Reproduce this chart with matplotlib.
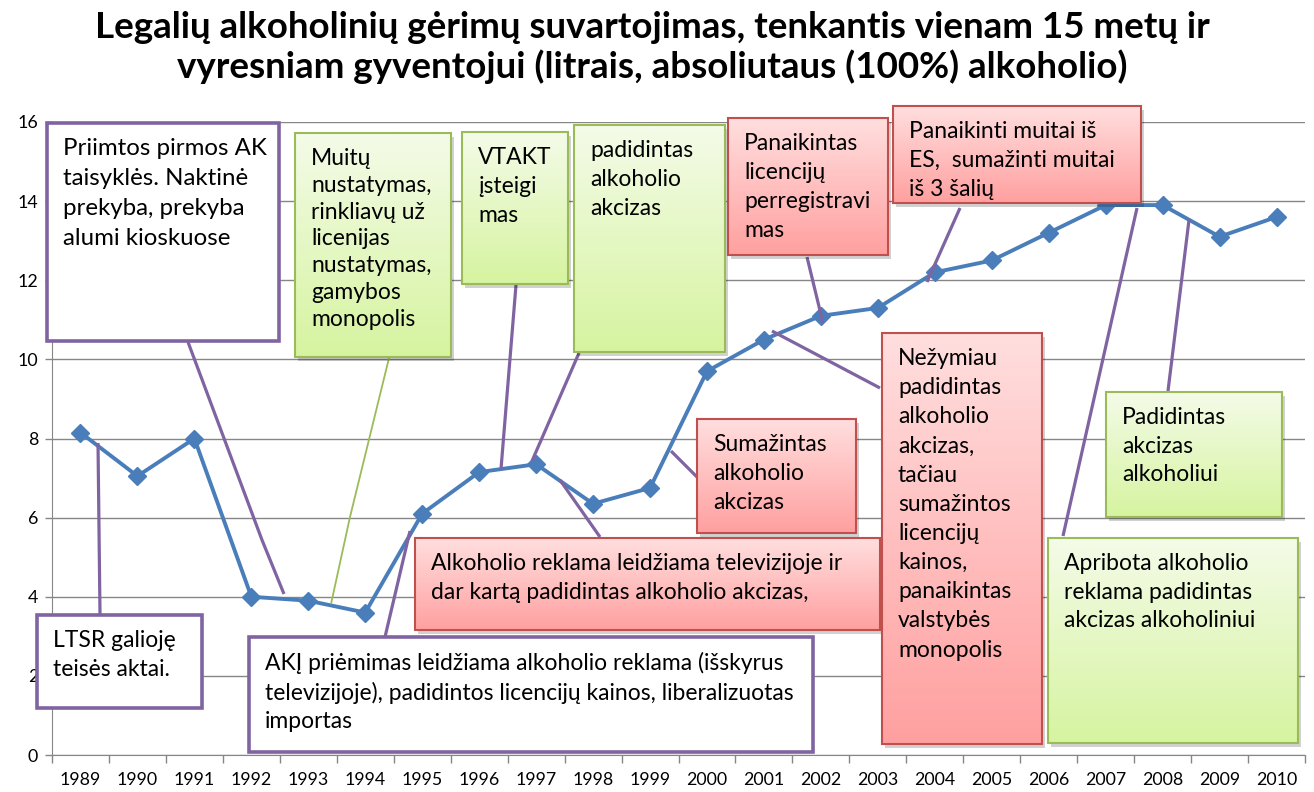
import numpy as np
import matplotlib.pyplot as plt
from matplotlib.patches import Rectangle
from matplotlib.colors import to_rgb

plt.rcParams['font.family'] = ['Lato', 'DejaVu Sans']

years = [1989, 1990, 1991, 1992, 1993, 1994, 1995, 1996, 1997, 1998, 1999,
         2000, 2001, 2002, 2003, 2004, 2005, 2006, 2007, 2008, 2009, 2010]
litres = [8.15, 7.05, 8.0, 4.0, 3.9, 3.6, 6.1, 7.15, 7.35, 6.35, 6.75,
          9.7, 10.5, 11.1, 11.3, 12.2, 12.5, 13.2, 13.9, 13.9, 13.1, 13.6]

title_lines = ["Legalių alkoholinių gėrimų suvartojimas, tenkantis vienam 15 metų ir",
               "vyresniam gyventojui (litrais, absoliutaus (100%) alkoholio)"]

notes = [
    "Priimtos pirmos AK\ntaisyklės. Naktinė\nprekyba, prekyba\nalumi kioskuose",
    "Muitų\nnustatymas,\nrinkliavų už\nlicenijas\nnustatymas,\ngamybos\nmonopolis",
    "VTAKT\nįsteigi\nmas",
    "padidintas\nalkoholio\nakcizas",
    "Panaikintas\nlicencijų\nperregistravi\nmas",
    "Panaikinti muitai iš\nES,  sumažinti muitai\niš 3 šalių",
    "Sumažintas\nalkoholio\nakcizas",
    "Alkoholio reklama leidžiama televizijoje ir\ndar kartą padidintas alkoholio akcizas,",
    "AKĮ priėmimas leidžiama alkoholio reklama (išskyrus\n"
    "televizijoje), padidintos licencijų kainos, liberalizuotas\nimportas",
    "Nežymiau\npadidintas\nalkoholio\nakcizas,\ntačiau\nsumažintos\nlicencijų\n"
    "kainos,\npanaikintas\nvalstybės\nmonopolis",
    "Padidintas\nakcizas\nalkoholiui",
    "Apribota alkoholio\nreklama padidintas\nakcizas alkoholiniui",
    "LTSR galioję\nteisės aktai.",
]

# box style, box (x0, y0, x1, y1) in image pixels, text size, line spacing,
# connector polyline in image pixels
W, H = 1314, 792
layout = [
    ('white', (47, 123, 279, 341), 17.3, 1.52, [(188, 342), (262, 540), (284, 594)]),
    ('green', (295, 133, 451, 357), 16.5, 1.34, [(389, 358), (350, 517), (331, 604)]),
    ('green', (462, 132, 568, 284), 16.5, 1.48, [(516, 285), (501, 469)]),
    ('green', (574, 125, 725, 352), 16.5, 1.48, [(579, 353), (532, 461)]),
    ('red', (728, 118, 888, 255), 16.5, 1.48, [(807, 257), (823, 323)]),
    ('red', (893, 106, 1141, 203), 16.5, 1.48, [(960, 208), (927, 282)]),
    ('red', (697, 419, 856, 533), 16.5, 1.48, [(697, 477), (671, 451)]),
    ('red', (415, 538, 880, 630), 16.5, 1.48, [(600, 537), (560, 480)]),
    ('white', (249, 637, 813, 752), 16.5, 1.43, [(385, 637), (410, 531)]),
    ('red', (882, 333, 1042, 744), 16.5, 1.48, [(880, 388), (772, 331)]),
    ('green', (1106, 392, 1282, 517), 16.5, 1.45, [(1168, 391), (1189, 220)]),
    ('green', (1048, 538, 1298, 743), 16.5, 1.45, [(1063, 536), (1137, 208)]),
    ('white', (37, 615, 202, 708), 16.5, 1.45, [(100, 614), (98, 443)]),
]

styles = {
    'white': dict(top='#ffffff', bottom='#ffffff', edge='#8064a2', lw=2.6, shadow=False),
    'green': dict(top='#f4fbe8', bottom='#d6f4a0', edge='#9bbb59', lw=1.5, shadow=True),
    'red': dict(top='#ffdede', bottom='#ffa0a0', edge='#c0504d', lw=1.5, shadow=True),
}

fig = plt.figure(figsize=(W / 100, H / 100), dpi=100)
ax = fig.add_axes([52 / W, 1 - 755 / H, 1253 / W, 633 / H])

x = np.arange(len(years))
ax.plot(x, litres, color='#4a7ebb', lw=2.8, marker='D', markersize=9.5,
        markeredgecolor='#4a7ebb', zorder=3)

ax.set_xlim(-0.5, len(years) - 0.5)
ax.set_ylim(0, 16)
ax.set_yticks(range(0, 17, 2))
ax.set_xticks(np.arange(-0.5, len(years), 1))
ax.set_xticklabels([])
ax.set_xticks(x, minor=True)
ax.set_xticklabels([str(y) for y in years], minor=True)
ax.tick_params(axis='x', which='major', length=6, color='#868686', width=1)
ax.tick_params(axis='x', which='minor', length=0, pad=12, labelsize=12.8)
ax.tick_params(axis='y', length=5, color='#868686', width=1, labelsize=12.8, pad=5)
ax.grid(axis='y', color='#868686', lw=1)
ax.set_axisbelow(True)
for side in ['top', 'right']:
    ax.spines[side].set_visible(False)
for side in ['left', 'bottom']:
    ax.spines[side].set_color('#868686')

for i, line in enumerate(title_lines):
    fig.text(652 / W, 1 - (38 + 40 * i) / H, line, ha='center', va='baseline',
             fontsize=26.5, fontweight='bold')

# overlay in image pixel coordinates for the callout boxes
ov = fig.add_axes([0, 0, 1, 1], zorder=5)
ov.axis('off')
ov.patch.set_alpha(0)

for text, (kind, (x0, y0, x1, y1), fs, ls, conn) in zip(notes, layout):
    st = styles[kind]
    cx, cy = zip(*conn)
    thin = kind == 'green' and x0 == 295
    ov.plot(cx, cy, color='#9bbb59' if thin else '#8064a2', lw=1.3 if thin else 2.3,
            solid_capstyle='butt', zorder=1)
    if st['shadow']:
        ov.add_patch(Rectangle((x0 + 3, y0 + 4), x1 - x0, y1 - y0,
                               facecolor='#000000', alpha=0.18, lw=0, zorder=2))
    t = np.linspace(0, 1, 64)[:, None, None]
    grad = np.array(to_rgb(st['top'])) * (1 - t) + np.array(to_rgb(st['bottom'])) * t
    ov.imshow(grad, extent=(x0, x1, y1, y0), aspect='auto', origin='upper',
              zorder=3, interpolation='bilinear')
    ov.add_patch(Rectangle((x0, y0), x1 - x0, y1 - y0, facecolor='none',
                           edgecolor=st['edge'], lw=st['lw'], zorder=4))
    ov.text(x0 + 16, y0 + 15, text, ha='left', va='top', fontsize=fs,
            linespacing=ls, color='black', zorder=5)

ov.set_xlim(0, W)
ov.set_ylim(H, 0)

fig.savefig('out.png', dpi=100)
